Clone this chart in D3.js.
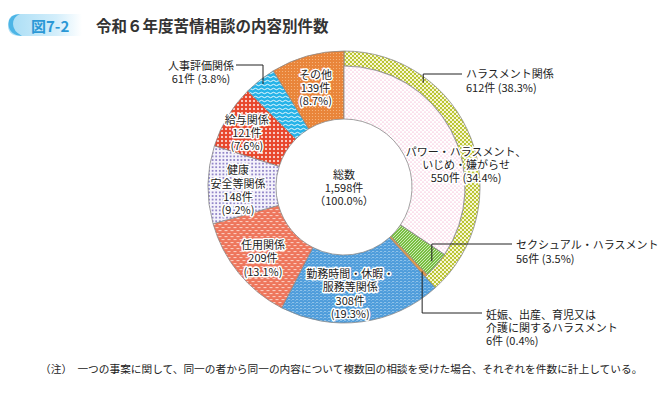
<!DOCTYPE html>
<html>
<head>
<meta charset="utf-8">
<script src="https://cdn.jsdelivr.net/npm/d3@7"></script>
<style>
  html, body { margin: 0; padding: 0; background: #fff; }
  svg { display: block; font-family: "Noto Sans CJK JP", "Noto Sans", sans-serif; }
</style>
</head>
<body>
<div id="main"></div>
<script>
// ---- data ----
const categories = ["ハラスメント関係", "勤務時間・休暇・\n服務等関係", "任用関係", "健康\n安全等関係", "給与関係", "人事評価関係", "その他"];
const counts = [612, 308, 209, 148, 121, 61, 139];
const shares = [38.3, 19.3, 13.1, 9.2, 7.6, 3.8, 8.7];

const harassNames = ["パワー・ハラスメント、\nいじめ・嫌がらせ", "セクシュアル・ハラスメント", "妊娠、出産、育児又は\n介護に関するハラスメント"];
const harassCounts = [550, 56, 6];
const harassShares = [34.4, 3.5, 0.4];

const total = 1598;
const totalShare = 100.0;

// ---- layout ----
const width = 666, height = 397;
const cx = 344, cy = 187;
const rInner = 68, rMid = 121, rOuter = 136;

const svg = d3.select("#main").append("svg")
  .attr("width", width)
  .attr("height", height);

const defs = svg.append("defs");

// patterns for each slice
function pattern(id, w, h, bg, draw) {
  const p = defs.append("pattern")
    .attr("id", id)
    .attr("patternUnits", "userSpaceOnUse")
    .attr("width", w)
    .attr("height", h);
  p.append("rect").attr("width", w).attr("height", h).attr("fill", bg);
  draw(p);
  return p;
}

pattern("p-harass", 4, 4, "#fafae0", (p) => {
  p.append("circle").attr("cx", 1).attr("cy", 1).attr("r", 1.15).attr("fill", "#b8c22a");
  p.append("circle").attr("cx", 3).attr("cy", 3).attr("r", 1.15).attr("fill", "#b8c22a");
});
pattern("p-work", 4, 3, "#4f9ddb", (p) => {
  p.append("rect").attr("x", 0).attr("y", 1).attr("width", 2.2).attr("height", 0.7).attr("fill", "#a9d2f1");
  p.append("circle").attr("cx", 3.2).attr("cy", 2.5).attr("r", 0.35).attr("fill", "#ffffff");
});
pattern("p-appoint", 6, 6, "#ee765c", (p) => {
  p.append("rect").attr("x", 0.5).attr("y", 1.2).attr("width", 3).attr("height", 0.9).attr("fill", "#fde0d8");
  p.append("rect").attr("x", 3.5).attr("y", 4.2).attr("width", 3).attr("height", 0.9).attr("fill", "#fde0d8");
  p.append("rect").attr("x", -2.5).attr("y", 4.2).attr("width", 3).attr("height", 0.9).attr("fill", "#fde0d8");
});
pattern("p-health", 3.6, 3.6, "#f4f2fb", (p) => {
  p.append("circle").attr("cx", 1.8).attr("cy", 1.8).attr("r", 0.9).attr("fill", "#7263b8");
});
pattern("p-salary", 4, 4, "#e8462c", (p) => {
  p.append("path").attr("d", "M2,0.8L3.2,2L2,3.2L0.8,2Z").attr("fill", "#ffffff");
});
pattern("p-eval", 6, 4, "#25b3e8", (p) => {
  p.append("path").attr("d", "M0,2Q1.5,0.6 3,2T6,2")
    .attr("fill", "none").attr("stroke", "#ffffff").attr("stroke-width", 0.9);
});
pattern("p-other", 3, 3, "#e9853a", (p) => {
  p.append("circle").attr("cx", 1.5).attr("cy", 1.5).attr("r", 0.6).attr("fill", "#f7bb86");
});
pattern("p-power", 4, 4, "#ffffff", (p) => {
  p.append("circle").attr("cx", 1).attr("cy", 1).attr("r", 0.6).attr("fill", "#f08cba");
  p.append("circle").attr("cx", 3).attr("cy", 3).attr("r", 0.6).attr("fill", "#f08cba");
});
pattern("p-sexual", 3, 3, "#78bf42", (p) => {
  p.append("path").attr("d", "M0,3L3,0M-1,1L1,-1M2,4L4,2")
    .attr("stroke", "#e6f4d8").attr("stroke-width", 0.8);
});
pattern("p-preg", 3, 3, "#e39a4a", (p) => {});

const mainFills = ["url(#p-harass)", "url(#p-work)", "url(#p-appoint)", "url(#p-health)", "url(#p-salary)", "url(#p-eval)", "url(#p-other)"];
const subFills = ["url(#p-power)", "url(#p-sexual)", "url(#p-preg)"];

// ---- title ----
const grad = defs.append("linearGradient").attr("id", "badge").attr("x1", 0).attr("x2", 1);
grad.append("stop").attr("offset", "0%").attr("stop-color", "#a8ddf5");
grad.append("stop").attr("offset", "65%").attr("stop-color", "#d3eefb");
grad.append("stop").attr("offset", "100%").attr("stop-color", "#ffffff");

const badge = svg.append("g");
badge.append("path")
  .attr("d", "M20,14 H82 V36 H20 Q8,36 8,25 Q8,14 20,14Z")
  .attr("fill", "url(#badge)");
badge.append("path")
  .attr("d", "M20,14 Q9,14 8.5,24 Q9,35 22,36 Q13,31 13,24 Q13,17 20,14Z")
  .attr("fill", "#4db5e6");
badge.append("text")
  .attr("x", 31).attr("y", 25)
  .attr("dominant-baseline", "central")
  .attr("font-size", 15).attr("font-weight", "bold")
  .attr("fill", "#2b98d6")
  .text("図7-2");

svg.append("text")
  .attr("x", 96).attr("y", 25)
  .attr("dominant-baseline", "central")
  .attr("font-size", 15.5).attr("font-weight", "bold")
  .attr("fill", "#333")
  .text("令和６年度苦情相談の内容別件数");

// ---- donut ----
const pie = d3.pie().sort(null).value((d) => d);
const mainArcs = pie(counts);
const harassArc = mainArcs[0];
const subArcs = d3.pie().sort(null).value((d) => d)
  .startAngle(harassArc.startAngle).endAngle(harassArc.endAngle)(harassCounts);

const arcFull = d3.arc().innerRadius(rInner).outerRadius(rOuter);
const arcRing = d3.arc().innerRadius(rMid).outerRadius(rOuter);
const arcSub = d3.arc().innerRadius(rInner).outerRadius(rMid);

const g = svg.append("g").attr("transform", `translate(${cx},${cy})`);

g.selectAll("path.main")
  .data(mainArcs)
  .join("path")
  .attr("class", "main")
  .attr("d", (d, i) => (i === 0 ? arcRing(d) : arcFull(d)))
  .attr("fill", (d, i) => mainFills[i])
  .attr("stroke", "#8a8a8a")
  .attr("stroke-width", 0.8);

g.selectAll("path.sub")
  .data(subArcs)
  .join("path")
  .attr("class", "sub")
  .attr("d", arcSub)
  .attr("fill", (d, i) => subFills[i])
  .attr("stroke", "#8a8a8a")
  .attr("stroke-width", 0.8);

// ---- labels ----
const lineH = 13.3;
const fmt = d3.format(",");

function block(x, y, lines, anchor, halo) {
  const t = g.append("text")
    .attr("font-size", 11)
    .attr("fill", "#222")
    .attr("text-anchor", anchor);
  if (halo) {
    t.attr("stroke", "#fff").attr("stroke-width", 3)
      .attr("stroke-linejoin", "round").attr("paint-order", "stroke");
  }
  const y0 = y - ((lines.length - 1) * lineH) / 2;
  lines.forEach((s, k) => {
    t.append("tspan")
      .attr("x", x).attr("y", y0 + k * lineH)
      .attr("dominant-baseline", "central")
      .text(s);
  });
}

// label centre = centroid at mid radius, nudged
const labelArc = d3.arc().innerRadius(102).outerRadius(102);
const nudges = { 1: [-7, 5], 2: [-2, 6], 3: [-4, 4], 4: [-10, -2], 6: [-1, -2] };

mainArcs.forEach((d, i) => {
  if (!nudges[i]) return;
  const c = labelArc.centroid(d);
  const lines = categories[i].split("\n").concat([`${counts[i]}件`, `(${shares[i]}%)`]);
  block(c[0] + nudges[i][0], c[1] + nudges[i][1], lines, "middle", true);
});

// power harassment inside label
{
  const c = labelArc.centroid(subArcs[0]);
  const lines = harassNames[0].split("\n").concat([`${harassCounts[0]}件 (${harassShares[0]}%)`]);
  block(c[0] + 32, c[1] + 25, lines, "middle", true);
}

// centre total
block(0, 0, ["総数", `${fmt(total)}件`, `（${totalShare.toFixed(1)}%）`], "middle", false);

// ---- callouts with leader lines ----
function pointAt(angle, r) {
  return [r * Math.sin(angle), -r * Math.cos(angle)];
}
function leader(pts) {
  g.append("path")
    .attr("d", d3.line()(pts))
    .attr("fill", "none")
    .attr("stroke", "#222")
    .attr("stroke-width", 1);
}

// 人事評価関係
{
  const d = mainArcs[5];
  const a = pointAt((d.startAngle + d.endAngle) / 2, 131);
  const yL = 65 - cy;
  leader([a, [a[0], yL], [236 - cx, yL]]);
  block(201 - cx, 71.5 - cy, [categories[5], `${counts[5]}件 (${shares[5]}%)`], "middle", false);
}
// ハラスメント関係 (outer ring)
{
  const d = harassArc;
  const a = pointAt(d.startAngle + 0.27 * (d.endAngle - d.startAngle), 131);
  const yL = 74 - cy;
  leader([a, [a[0], yL], [462 - cx, yL]]);
  block(466 - cx, 80 - cy, [categories[0], `${counts[0]}件 (${shares[0]}%)`], "start", false);
}
// セクシュアル・ハラスメント
{
  const d = subArcs[1];
  const a = pointAt((d.startAngle + d.endAngle) / 2, 115);
  const yL = 244 - cy;
  leader([a, [a[0], yL], [512 - cx, yL]]);
  block(516 - cx, 251 - cy, [harassNames[1], `${harassCounts[1]}件 (${harassShares[1]}%)`], "start", false);
}
// 妊娠、出産、育児又は介護
{
  const d = subArcs[2];
  const a = pointAt((d.startAngle + d.endAngle) / 2, 115);
  const yL = 313 - cy;
  leader([a, [a[0], yL], [482 - cx, yL]]);
  block(486 - cx, 327 - cy, harassNames[2].split("\n").concat([`${harassCounts[2]}件 (${harassShares[2]}%)`]), "start", false);
}

// ---- note ----
svg.append("text")
  .attr("x", 40).attr("y", 368)
  .attr("dominant-baseline", "central")
  .attr("font-size", 10.7)
  .attr("fill", "#222")
  .text("（注）　一つの事案に関して、同一の者から同一の内容について複数回の相談を受けた場合、それぞれを件数に計上している。");
</script>
</body>
</html>
